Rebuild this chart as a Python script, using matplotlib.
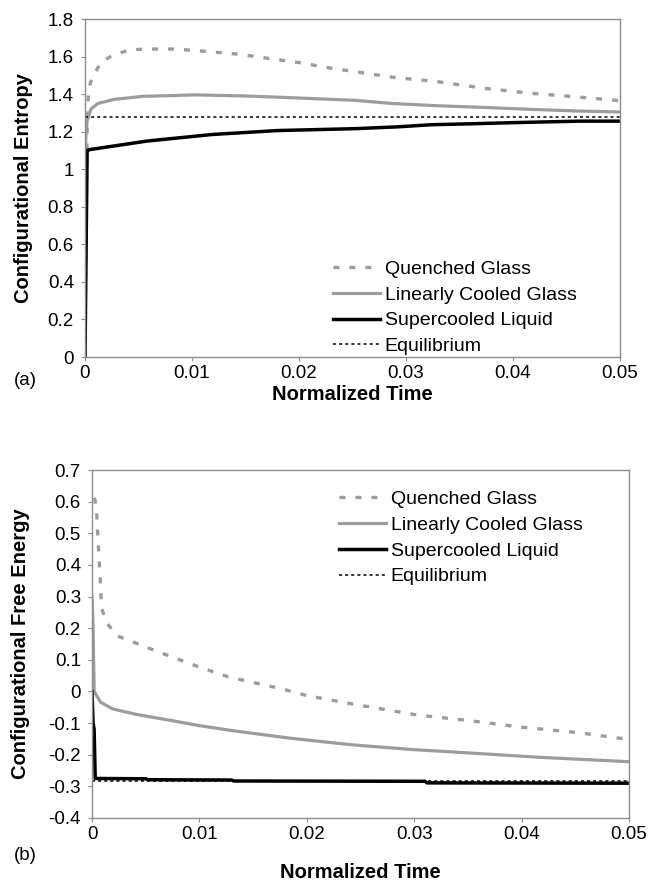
import matplotlib
matplotlib.use('Agg')
import matplotlib.pyplot as plt

plt.rcParams['font.family'] = ['Liberation Sans', 'DejaVu Sans']
plt.rcParams['lines.scale_dashes'] = False

# ---- panel (a): configurational entropy ----
quenched_a_t = [0, 0.00005, 0.0001, 0.00015, 0.0002, 0.0003, 0.0005, 0.0008, 0.0015, 0.0027,
                0.0042, 0.0056, 0.0085, 0.0114, 0.0143, 0.0173, 0.0202, 0.0231, 0.0252, 0.0287,
                0.033, 0.0373, 0.0416, 0.0462, 0.05]
quenched_a = [0, 0.39, 0.69, 1.0, 1.2, 1.38, 1.46, 1.50, 1.57, 1.61,
              1.635, 1.64, 1.64, 1.627, 1.613, 1.589, 1.566, 1.537, 1.52, 1.49,
              1.466, 1.431, 1.405, 1.384, 1.365]
linear_a_t = [0, 0.0001, 0.0002, 0.00055, 0.0012, 0.0027, 0.0054, 0.0104, 0.015, 0.0192,
              0.0252, 0.0287, 0.033, 0.0373, 0.0416, 0.046, 0.05]
linear_a = [1.06, 1.2, 1.26, 1.32, 1.35, 1.372, 1.388, 1.396, 1.39, 1.381,
            1.367, 1.35, 1.338, 1.329, 1.319, 1.31, 1.305]
super_a_t = [0, 0.0002, 0.0005, 0.0058, 0.0119, 0.018, 0.0217, 0.0252, 0.029, 0.0324,
             0.0361, 0.0407, 0.0462, 0.05]
super_a = [0, 1.10, 1.105, 1.15, 1.185, 1.206, 1.211, 1.216, 1.225, 1.237,
           1.242, 1.249, 1.256, 1.256]
equil_a_t = [0, 0.05]
equil_a = [1.278, 1.278]

# ---- panel (b): configurational free energy ----
quenched_b_t = [0.0002, 0.00028, 0.00044, 0.0006, 0.00075, 0.0009, 0.0014, 0.0024, 0.0062, 0.010,
                0.0127, 0.0177, 0.020, 0.0243, 0.0302, 0.0351, 0.040, 0.0455, 0.05]
quenched_b = [0.612, 0.605, 0.558, 0.457, 0.362, 0.262, 0.215, 0.175, 0.125, 0.077,
              0.046, 0.008, -0.013, -0.04, -0.074, -0.092, -0.113, -0.131, -0.152]
linear_b_t = [0, 0.0001, 0.0002, 0.0008, 0.0019, 0.0042, 0.0069, 0.010, 0.0131, 0.0185,
              0.0243, 0.030, 0.0359, 0.0416, 0.05]
linear_b = [0.3, 0.2, 0.0, -0.034, -0.055, -0.073, -0.089, -0.108, -0.124, -0.148,
            -0.169, -0.184, -0.196, -0.208, -0.222]
super_b_t = [0, 0.0001, 0.0002, 0.0003, 0.005, 0.0052, 0.013, 0.0132, 0.031, 0.0312, 0.05]
super_b = [0.0, -0.1, -0.12, -0.275, -0.276, -0.279, -0.28, -0.283, -0.284, -0.289, -0.29]
equil_b_t = [0, 0.05]
equil_b = [-0.283, -0.283]

labels = ['Quenched Glass', 'Linearly Cooled Glass', 'Supercooled Liquid', 'Equilibrium']
x_ticks = [0, 0.01, 0.02, 0.03, 0.04, 0.05]
x_ticklabels = ['0', '0.01', '0.02', '0.03', '0.04', '0.05']
y_ticks_a = [0, 0.2, 0.4, 0.6, 0.8, 1.0, 1.2, 1.4, 1.6, 1.8]
y_ticklabels_a = ['0', '0.2', '0.4', '0.6', '0.8', '1', '1.2', '1.4', '1.6', '1.8']
y_ticks_b = [-0.4, -0.3, -0.2, -0.1, 0, 0.1, 0.2, 0.3, 0.4, 0.5, 0.6, 0.7]
y_ticklabels_b = ['-0.4', '-0.3', '-0.2', '-0.1', '0', '0.1', '0.2', '0.3', '0.4', '0.5', '0.6', '0.7']

GRAY = '#9c9c9c'
SPINE = '#8c8c8c'


def draw_panel(ax, data, yticks, yticklabels, ylabel, ylabel_x, xlabel_y, legend_anchor):
    (qt, q), (lt, l), (st, s), (et, e) = data
    ax.plot(qt, q, color=GRAY, lw=2.4, linestyle=(0, (4.3, 7.2)), label=labels[0])
    ax.plot(lt, l, color=GRAY, lw=2.3, label=labels[1])
    ax.plot(st, s, color='black', lw=2.5, label=labels[2])
    ax.plot(et, e, color='black', lw=1.1, linestyle=(0, (2.2, 2.2)), label=labels[3])
    ax.set_xlim(0, 0.05)
    ax.set_ylim(yticks[0], yticks[-1])
    ax.set_xticks(x_ticks)
    ax.set_xticklabels(x_ticklabels)
    ax.set_yticks(yticks)
    ax.set_yticklabels(yticklabels)
    for sp in ax.spines.values():
        sp.set_color(SPINE)
        sp.set_linewidth(1.0)
    ax.tick_params(direction='out', length=3, width=0.8, color=SPINE, labelsize=13.5)
    ax.tick_params(axis='x', pad=2.5)
    ax.tick_params(axis='y', pad=5)
    ax.set_ylabel(ylabel, fontsize=14.5, fontweight='bold')
    ax.yaxis.set_label_coords(ylabel_x, 0.5)
    ax.set_xlabel('Normalized Time', fontsize=14.5, fontweight='bold')
    ax.xaxis.set_label_coords(0.5, xlabel_y)
    ax.legend(loc='upper left', bbox_to_anchor=legend_anchor, frameon=False, fontsize=14,
              handlelength=2.4, handletextpad=0.25, labelspacing=0.42, borderpad=0, borderaxespad=0)


fig = plt.figure(figsize=(6.51, 8.86), dpi=100)
ax_a = fig.add_axes([85 / 651, 1 - 357 / 886, 535 / 651, 338 / 886])
ax_b = fig.add_axes([92 / 651, 1 - 818 / 886, 537 / 651, 348 / 886])

draw_panel(ax_a, [(quenched_a_t, quenched_a), (linear_a_t, linear_a), (super_a_t, super_a), (equil_a_t, equil_a)],
           y_ticks_a, y_ticklabels_a, 'Configurational Entropy', -0.097, -0.083, (0.4636, 0.286))
draw_panel(ax_b, [(quenched_b_t, quenched_b), (linear_b_t, linear_b), (super_b_t, super_b), (equil_b_t, equil_b)],
           y_ticks_b, y_ticklabels_b, 'Configurational Free Energy', -0.115, -0.129, (0.46, 0.941))

fig.text(14 / 651, 1 - 381 / 886, '(a)', fontsize=13.5, va='center', ha='left')
fig.text(14 / 651, 1 - 855 / 886, '(b)', fontsize=13.5, va='center', ha='left')

fig.savefig('out.png', dpi=100)
